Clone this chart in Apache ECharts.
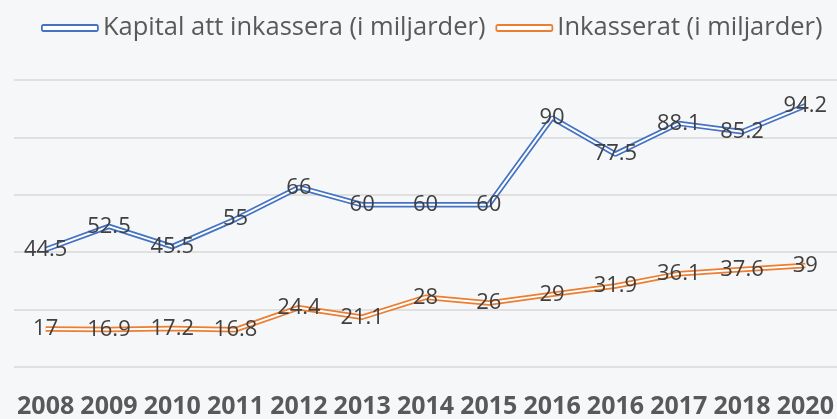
<!DOCTYPE html>
<html>
<head>
<meta charset="utf-8">
<script src="https://cdn.jsdelivr.net/npm/echarts@6/dist/echarts.min.js"></script>
<style>
html,body{margin:0;padding:0;background:#f6f7f9;}
#c{width:837px;height:419px;}
</style>
</head>
<body>
<div id="c"></div>
<script>
const categories = ['2008','2009','2010','2011','2012','2013','2014','2015','2016','2016','2017','2018','2020'];
const kapital = [44.5, 52.5, 45.5, 55, 66, 60, 60, 60, 90, 77.5, 88.1, 85.2, 94.2];
const inkasserat = [17, 16.9, 17.2, 16.8, 24.4, 21.1, 28, 26, 29, 31.9, 36.1, 37.6, 39];
const nameK = 'Kapital att inkassera (i miljarder)';
const nameI = 'Inkasserat (i miljarder)';

const BLUE = '#4472C4', ORANGE = '#ED7D31';
const font = 'Open Sans';

function outer(name, data, color) {
  return {
    name, type: 'line', data, yAxisIndex: 1,
    symbol: 'circle', symbolSize: 1,
    itemStyle: {color: 'rgba(0,0,0,0)'},
    lineStyle: {color, width: 5.5},
    label: {show: false},
    emphasis: {disabled: true},
    z: 2
  };
}
function inner(name, data) {
  return {
    name, type: 'line', data, yAxisIndex: 1,
    symbol: 'circle', symbolSize: 1,
    itemStyle: {color: 'rgba(0,0,0,0)'},
    lineStyle: {color: '#ffffff', width: 2},
    label: {show: true, position: 'inside', color: '#404040', fontFamily: font, fontSize: 22},
    emphasis: {disabled: true},
    z: 3
  };
}

const chart = echarts.init(document.getElementById('c'));
chart.setOption({
  backgroundColor: '#f6f7f9',
  animation: false,
  legend: {
    top: 10, left: 36,
    itemWidth: 56, itemHeight: 6, itemGap: 10,
    textStyle: {fontFamily: font, fontSize: 25.5, color: '#595959'},
    data: [
      {name: nameK, icon: 'roundRect', itemStyle: {color: '#ffffff', borderColor: BLUE, borderWidth: 1.8}},
      {name: nameI, icon: 'roundRect', itemStyle: {color: '#ffffff', borderColor: ORANGE, borderWidth: 1.8}}
    ]
  },
  grid: {left: 14, right: -3, top: 80, bottom: 48, containLabel: false},
  xAxis: {
    type: 'category', data: categories, boundaryGap: true,
    axisLine: {show: false}, axisTick: {show: false},
    axisLabel: {interval: 0, margin: 27, fontFamily: font, fontWeight: 'bold', fontSize: 25, color: '#595959'}
  },
  yAxis: [
    {type: 'value', min: 0, max: 100, interval: 20,
     axisLabel: {show: false}, axisLine: {show: false}, axisTick: {show: false},
     splitLine: {lineStyle: {color: '#d9d9d9', width: 1.5}}},
    {type: 'value', min: 3.9, max: 103.1, show: false, splitLine: {show: false}}
  ],
  series: [
    outer(nameK, kapital, BLUE), inner(nameK, kapital),
    outer(nameI, inkasserat, ORANGE), inner(nameI, inkasserat)
  ]
});
</script>
</body>
</html>
